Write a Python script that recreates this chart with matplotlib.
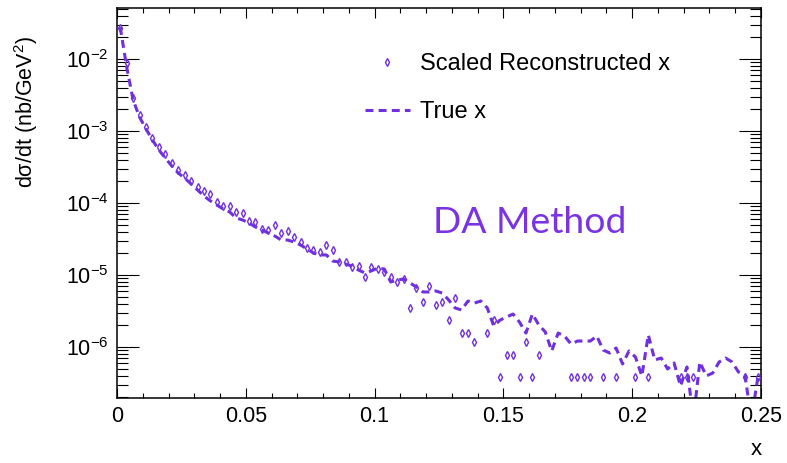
import numpy as np
import matplotlib
matplotlib.use("Agg")
import matplotlib.pyplot as plt
from matplotlib.ticker import LogLocator, MultipleLocator, FixedLocator

plt.rcParams['font.family'] = ['Liberation Sans', 'DejaVu Sans']
plt.rcParams['mathtext.fontset'] = 'custom'
plt.rcParams['mathtext.rm'] = 'Liberation Sans'
plt.rcParams['mathtext.it'] = 'Liberation Sans:italic'
plt.rcParams['mathtext.default'] = 'regular'

# 100 bins of width 0.0025 between 0 and 0.25
bin_lo = 0.0
bin_hi = 0.25
n_bins = 100

# scaled reconstructed x (markers), nan = empty bin
reco = [
    2.67e-2, 8.80e-3, 2.85e-3, 1.67e-3, 1.15e-3, 8.07e-4, 5.94e-4, 4.75e-4, 3.63e-4, 2.85e-4,
    2.45e-4, 2.04e-4, 1.65e-4, 1.48e-4, 1.32e-4, 1.04e-4, 9.08e-5, 9.08e-5, 7.43e-5, 7.19e-5,
    5.62e-5, 5.50e-5, 4.31e-5, 4.22e-5, 4.90e-5, 3.87e-5, 4.05e-5, 3.40e-5, 2.90e-5, 2.35e-5,
    2.22e-5, 2.11e-5, 2.59e-5, 2.22e-5, 1.53e-5, 1.53e-5, 1.28e-5, 1.33e-5, 9.29e-6, 1.28e-5,
    1.20e-5, 1.11e-5, 9.47e-6, 8.07e-6, 8.71e-6, 3.45e-6, 6.54e-6, 4.26e-6, 7.03e-6, 3.83e-6,
    4.26e-6, 2.35e-6, 4.75e-6, 1.55e-6, 1.55e-6, 1.17e-6, np.nan, 1.55e-6, 2.34e-6, 3.87e-7,
    7.74e-7, 7.74e-7, 3.87e-7, 1.17e-6, 3.87e-7, 7.74e-7, np.nan, np.nan, np.nan, np.nan,
    3.87e-7, 3.87e-7, 3.87e-7, 3.87e-7, np.nan, 3.87e-7, np.nan, 3.87e-7, np.nan, np.nan,
    3.87e-7, np.nan, 3.87e-7, np.nan, np.nan, np.nan, np.nan, 3.87e-7, 3.87e-7, 3.87e-7,
    np.nan, np.nan, np.nan, np.nan, np.nan, np.nan, np.nan, 3.87e-7, np.nan, 3.87e-7,
]

# true x (dashed line)
true = [
    2.78e-2, 7.74e-3, 2.70e-3, 1.56e-3, 1.07e-3, 7.50e-4, 5.45e-4, 4.22e-4, 3.27e-4, 2.61e-4,
    2.22e-4, 1.84e-4, 1.52e-4, 1.25e-4, 1.07e-4, 9.38e-5, 8.25e-5, 7.50e-5, 6.19e-5, 5.81e-5,
    5.28e-5, 4.64e-5, 4.22e-5, 3.83e-5, 3.48e-5, 3.06e-5, 3.06e-5, 2.87e-5, 2.61e-5, 2.30e-5,
    2.02e-5, 1.90e-5, 1.90e-5, 1.56e-5, 1.52e-5, 1.42e-5, 1.33e-5, 1.17e-5, 1.07e-5, 1.14e-5,
    1.25e-5, 1.21e-5, 8.00e-6, 8.52e-6, 8.80e-6, 7.74e-6, 6.81e-6, 5.81e-6, 5.81e-6, 6.00e-6,
    5.62e-6, 4.50e-6, 3.48e-6, 3.27e-6, 4.35e-6, 4.08e-6, 4.35e-6, 3.48e-6, 1.96e-6, 2.37e-6,
    2.61e-6, 2.87e-6, 2.22e-6, 1.56e-6, 2.87e-6, 2.02e-6, 1.62e-6, 8.80e-7, 1.56e-6, 1.42e-6,
    1.10e-6, 1.21e-6, 1.21e-6, 1.21e-6, 1.42e-6, 9.08e-7, 8.25e-7, 9.68e-7, 5.81e-7, 8.80e-7,
    7.26e-7, 3.96e-7, 1.47e-6, 6.60e-7, 7.03e-7, 4.95e-7, 6.00e-7, 2.87e-7, 5.28e-7, 1.0e-7,
    6.19e-7, 3.96e-7, 4.35e-7, 6.19e-7, 7.03e-7, 6.19e-7, 4.50e-7, 4.08e-7, 1.0e-7, 3.70e-7,
]

edges = np.linspace(bin_lo, bin_hi, n_bins + 1)
centers = 0.5 * (edges[:-1] + edges[1:])

purple = '#7030e0'

fig = plt.figure(figsize=(7.87, 4.63), dpi=100)
ax = fig.add_axes([117/787, 1 - 398/463, 644/787, 390/463])

ax.plot(centers, true, color=purple, lw=2.2, ls=(0, (2.6, 1.7)), label='True x', zorder=2)
ax.plot(centers, reco, ls='none', marker='d', ms=3.6, mfc='none', mec=purple, mew=1.0,
        label='Scaled Reconstructed x', zorder=3)

ax.set_yscale('log')
ax.set_xlim(0, 0.25)
ax.set_ylim(1.957e-7, 5.11e-2)

ax.xaxis.set_major_locator(FixedLocator([0, 0.05, 0.1, 0.15, 0.2, 0.25]))
ax.xaxis.set_minor_locator(MultipleLocator(0.01))
ax.set_xticklabels(['0', '0.05', '0.1', '0.15', '0.2', '0.25'])
ax.yaxis.set_major_locator(LogLocator(base=10, numticks=20))
ax.yaxis.set_minor_locator(LogLocator(base=10, subs=np.arange(2, 10), numticks=20))

ax.tick_params(axis='x', which='major', direction='in', length=7.5, width=0.8,
               top=True, labelsize=15.5, pad=6)
ax.tick_params(axis='x', which='minor', direction='in', length=3.8, width=0.8, top=True)
ax.tick_params(axis='y', which='major', direction='in', length=16, width=0.8,
               right=True, labelsize=15.5, pad=6)
ax.tick_params(axis='y', which='minor', direction='in', length=8, width=0.8, right=True)
for s in ax.spines.values():
    s.set_linewidth(1.1)

ax.set_ylabel('dσ/dt (nb/GeV$^2$)', fontsize=15.5)
ax.yaxis.set_label_coords(-0.12, 0.733)
ax.set_xlabel('x', fontsize=16)
ax.xaxis.set_label_coords(0.992, -0.105)

leg = ax.legend(handles=ax.lines[::-1], loc='upper left', bbox_to_anchor=(0.385, 0.885),
                frameon=False, fontsize=17, handlelength=1.9, handletextpad=0.45,
                labelspacing=1.1, borderpad=0, borderaxespad=0, numpoints=1)

ax.text(0.490, 0.423, 'DA Method', transform=ax.transAxes, color='#7a32e6',
        fontsize=26.8, family=['Lato', 'DejaVu Sans'], ha='left', va='baseline')

fig.savefig('out.png', dpi=100)
